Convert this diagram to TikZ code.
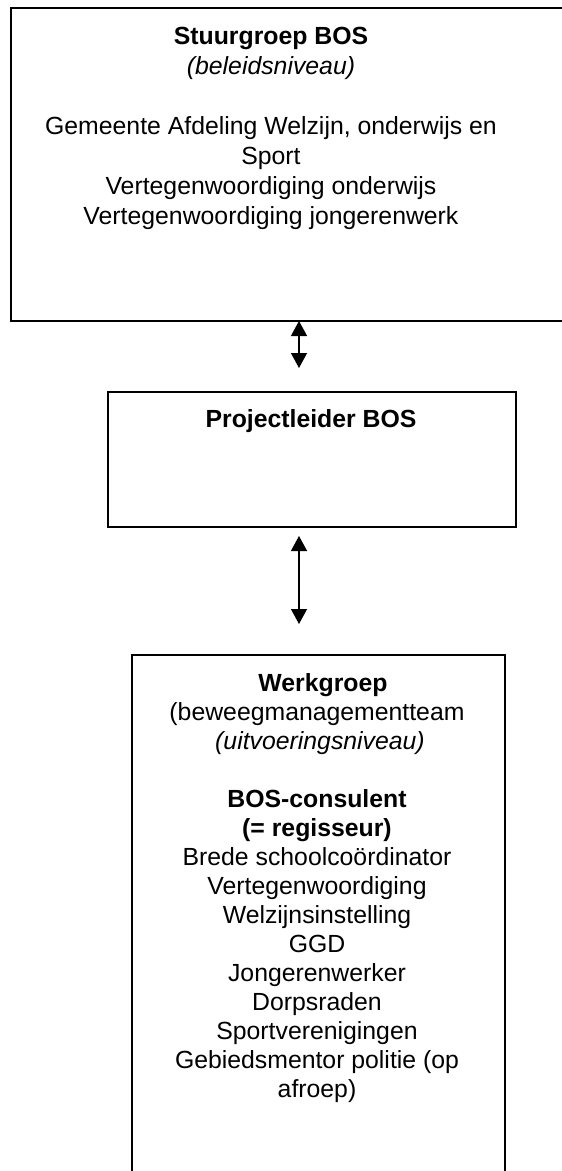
\documentclass[tikz,border=0pt]{standalone}
\usepackage{fontspec}
\setmainfont{Liberation Sans}
\usetikzlibrary{arrows.meta}

\begin{document}
\begin{tikzpicture}[x=1pt,y=-1pt,
    box/.style={shape=rectangle, draw, line width=1.6pt, anchor=north west, inner sep=0pt},
    txt/.style={align=center, anchor=base, inner sep=0pt},
    link/.style={line width=1.3pt, {Triangle[width=16pt,length=15pt]}-{Triangle[width=16pt,length=15pt]}}]
    \useasboundingbox (0,0) rectangle (562,1171);
    \clip (0,0) rectangle (562,1171);

    \node[box, minimum width=600pt, minimum height=313pt] (stuur) at (10,7) {};
    \node[box, minimum width=408pt, minimum height=135pt] (leider) at (107,391) {};
    \node[box, minimum width=373pt, minimum height=600pt] (werk) at (131,654) {};

    % anchor base = baseline of the last line
    \node[txt, font=\fontsize{24.8}{30}\selectfont] (stuurtxt) at (271,224)
      {\textbf{Stuurgroep BOS}\\ \textit{(beleidsniveau)}\\[30pt]
       Gemeente Afdeling Welzijn, onderwijs en\\ Sport\\
       Vertegenwoordiging onderwijs\\ Vertegenwoordiging jongerenwerk};
    \node[txt, font=\fontsize{24.8}{30}\selectfont] (leidertxt) at (311,427)
      {\textbf{Projectleider BOS}};
    \node[txt, font=\fontsize{24.8}{29}\selectfont] (werktxt) at (317,1097)
      {\hspace*{12pt}\textbf{Werkgroep}\\ (beweegmanagementteam\hspace*{22pt}\\
       \hspace*{6pt}\textit{(uitvoeringsniveau)}\\[29pt]
       \textbf{BOS-consulent}\\ \textbf{(= regisseur)}\\
       Brede schoolcoördinator\\ Vertegenwoordiging\\ Welzijnsinstelling\\ GGD\\
       Jongerenwerker\\ Dorpsraden\\ Sportverenigingen\\
       Gebiedsmentor politie (op\\ afroep)};

    \coordinate (p1) at (299,321);
    \coordinate (p2) at (299,368);
    \coordinate (p3) at (299,536);
    \coordinate (p4) at (299,624);
    \draw[link] (p1) -- (p2);
    \draw[link] (p3) -- (p4);
\end{tikzpicture}
\end{document}
